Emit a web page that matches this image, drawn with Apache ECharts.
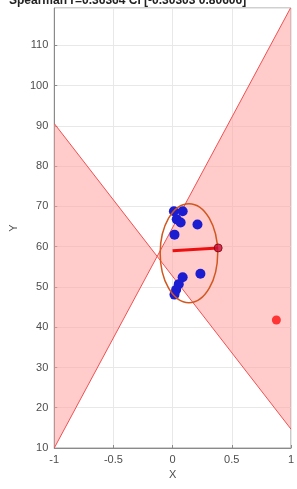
<!DOCTYPE html>
<html>
<head>
<meta charset="utf-8">
<script src="https://cdn.jsdelivr.net/npm/echarts@6/dist/echarts.min.js"></script>
<style>html,body{margin:0;padding:0;background:#fff}#c{width:297px;height:489px}</style>
</head>
<body>
<div id="c"></div>
<script>
// ---- data ----
const titleText = 'Spearman r=0.36364 CI [-0.30303 0.80606]';
const xTicks = [-1, -0.5, 0, 0.5, 1];
const yTicks = [10, 20, 30, 40, 50, 60, 70, 80, 90, 100, 110];
const inlierX = [0.011, 0.085, 0.035, 0.068, 0.210, 0.016, 0.235, 0.085, 0.052, 0.030, 0.016];
const inlierY = [68.8, 68.8, 66.8, 66.0, 65.5, 63.0, 53.3, 52.4, 50.7, 49.3, 48.1];
const outlierX = [0.877];
const outlierY = [41.8];
// CI bounds lines: [x, y] at left and right ends
const ciLine1 = [[-1, 90.6], [1, 14.7]];
const ciLine2 = [[-1, 10.0], [1, 119.5]];
// ellipse: center x, center y, semi-axis x, semi-axis y
const ellipse = [0.138, 58.4, 0.243, 12.3];
// red slope segment
const segX = [0.0, 0.385];
const segY = [59.0, 59.7];

// intersection of the two CI lines
const s1 = (ciLine1[1][1] - ciLine1[0][1]) / (ciLine1[1][0] - ciLine1[0][0]);
const s2 = (ciLine2[1][1] - ciLine2[0][1]) / (ciLine2[1][0] - ciLine2[0][0]);
const b1 = ciLine1[0][1] - s1 * ciLine1[0][0];
const b2 = ciLine2[0][1] - s2 * ciLine2[0][0];
const ix = (b2 - b1) / (s1 - s2);
const iy = b1 + s1 * ix;

const chart = echarts.init(document.getElementById('c'), null, {renderer: 'canvas'});
const axisLabelStyle = {color: '#4d4d4d', fontSize: 11, fontFamily: 'Liberation Sans, Arial, sans-serif'};
chart.setOption({
  animation: false,
  title: {
    text: titleText, left: 4, top: -10,
    textStyle: {fontSize: 12, fontWeight: 'bold', color: '#222', fontFamily: 'Liberation Sans, Arial, sans-serif'}
  },
  grid: {left: 51, right: 1, top: 8, bottom: 41, show: true, borderColor: '#a0a0a0', borderWidth: 1, backgroundColor: 'transparent'},
  xAxis: {
    type: 'value', min: -1, max: 1, interval: 0.5,
    name: 'X', nameLocation: 'middle', nameGap: 17,
    nameTextStyle: {color: '#4d4d4d', fontSize: 11},
    axisLine: {show: true, onZero: false, lineStyle: {color: '#8a8a8a'}},
    axisTick: {show: true, inside: true, length: 3, lineStyle: {color: '#8a8a8a'}},
    axisLabel: Object.assign({margin: 6, formatter: v => xTicks.indexOf(v) >= 0 ? String(v) : ''}, axisLabelStyle),
    splitLine: {show: true, lineStyle: {color: '#e8e8e8'}}
  },
  yAxis: {
    type: 'value', min: 10, max: 119.3, interval: 10,
    name: 'Y', nameLocation: 'middle', nameGap: 33,
    nameTextStyle: {color: '#4d4d4d', fontSize: 11},
    axisLine: {show: true, onZero: false, lineStyle: {color: '#8a8a8a'}},
    axisTick: {show: true, inside: true, length: 3, lineStyle: {color: '#8a8a8a'}},
    axisLabel: Object.assign({margin: 6, showMaxLabel: false, formatter: v => yTicks.indexOf(v) >= 0 ? String(v) : ''}, axisLabelStyle),
    splitLine: {show: true, lineStyle: {color: '#e8e8e8'}}
  },
  series: [
    {
      type: 'custom', clip: true, z: 1,
      data: [[ix, iy]],
      renderItem: function (params, api) {
        const p = a => api.coord(a);
        const c = p([ix, iy]);
        const leftPoly = [p(ciLine1[0]), p(ciLine2[0]), c];
        const rightPoly = [c, p(ciLine2[1]), p(ciLine1[1])];
        return {
          type: 'group',
          children: [
            {type: 'polygon', shape: {points: leftPoly}, style: {fill: 'rgba(255,160,160,0.55)', stroke: 'none'}},
            {type: 'polygon', shape: {points: rightPoly}, style: {fill: 'rgba(255,160,160,0.55)', stroke: 'none'}},
            {type: 'line', shape: {x1: p(ciLine1[0])[0], y1: p(ciLine1[0])[1], x2: p(ciLine1[1])[0], y2: p(ciLine1[1])[1]}, style: {stroke: '#f05050', lineWidth: 1}},
            {type: 'line', shape: {x1: p(ciLine2[0])[0], y1: p(ciLine2[0])[1], x2: p(ciLine2[1])[0], y2: p(ciLine2[1])[1]}, style: {stroke: '#f05050', lineWidth: 1}}
          ]
        };
      }
    },
    {
      type: 'scatter', z: 3, symbol: 'circle', symbolSize: 10,
      itemStyle: {color: '#1c1cd0', opacity: 1},
      data: inlierX.map((x, i) => [x, inlierY[i]])
    },
    {
      type: 'custom', clip: true, z: 4,
      data: [ellipse],
      renderItem: function (params, api) {
        const c = api.coord([api.value(0), api.value(1)]);
        const s = api.size([api.value(2), api.value(3)]);
        return {
          type: 'path',
          shape: {
            pathData: 'M0,1 A1,1 0 1,0 2,1 A1,1 0 1,0 0,1 Z',
            x: c[0] - s[0], y: c[1] - s[1], width: 2 * s[0], height: 2 * s[1], layout: 'cover'
          },
          style: {fill: 'none', stroke: '#d2571e', lineWidth: 1.5}
        };
      }
    },
    {
      type: 'line', z: 5, symbol: 'none',
      lineStyle: {color: '#ee1010', width: 3},
      data: segX.map((x, i) => [x, segY[i]])
    },
    {
      type: 'scatter', z: 6, symbol: 'circle', symbolSize: 8,
      itemStyle: {color: '#c8103c', borderColor: '#7a0000', borderWidth: 1},
      data: [[segX[1], segY[1]]]
    },
    {
      type: 'scatter', z: 6, symbol: 'circle', symbolSize: 9,
      itemStyle: {color: '#ff1010'},
      data: outlierX.map((x, i) => [x, outlierY[i]])
    }
  ]
});
</script>
</body>
</html>
